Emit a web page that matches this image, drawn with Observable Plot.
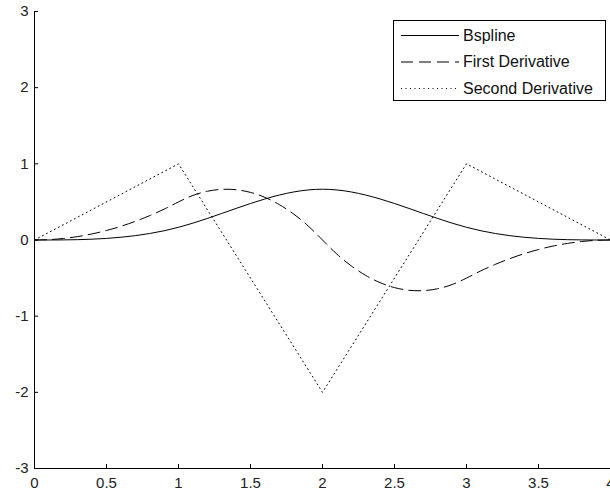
<!DOCTYPE html>
<html>
<head>
<meta charset="utf-8">
<script src="https://cdn.jsdelivr.net/npm/d3@7"></script>
<script src="https://cdn.jsdelivr.net/npm/@observablehq/plot@0.6"></script>
<style>
  html, body { margin: 0; padding: 0; background: #fff; }
  #chart { width: 610px; height: 493px; overflow: hidden; }
</style>
</head>
<body>
<div id="chart"></div>
<script>
// Sample positions (x) and series values
const xs = [0, 0.1, 0.2, 0.3, 0.4, 0.5, 0.6, 0.7, 0.8, 0.9, 1.0,
            1.1, 1.2, 1.3, 1.4, 1.5, 1.6, 1.7, 1.8, 1.9, 2.0,
            2.1, 2.2, 2.3, 2.4, 2.5, 2.6, 2.7, 2.8, 2.9, 3.0,
            3.1, 3.2, 3.3, 3.4, 3.5, 3.6, 3.7, 3.8, 3.9, 4.0];
const bspline = [0, 0.0002, 0.0013, 0.0045, 0.0107, 0.0208, 0.036, 0.0572, 0.0853, 0.1215, 0.1667,
                 0.2212, 0.2827, 0.3482, 0.4147, 0.4792, 0.5387, 0.5902, 0.6307, 0.6572, 0.6667,
                 0.6572, 0.6307, 0.5902, 0.5387, 0.4792, 0.4147, 0.3482, 0.2827, 0.2212, 0.1667,
                 0.1215, 0.0853, 0.0572, 0.036, 0.0208, 0.0107, 0.0045, 0.0013, 0.0002, 0];
const firstDeriv = [0, 0.005, 0.02, 0.045, 0.08, 0.125, 0.18, 0.245, 0.32, 0.405, 0.5,
                    0.585, 0.64, 0.665, 0.66, 0.625, 0.56, 0.465, 0.34, 0.185, 0,
                    -0.185, -0.34, -0.465, -0.56, -0.625, -0.66, -0.665, -0.64, -0.585, -0.5,
                    -0.405, -0.32, -0.245, -0.18, -0.125, -0.08, -0.045, -0.02, -0.005, 0];
const secondX = [0, 1, 2, 3, 4];
const secondDeriv = [0, 1, -2, 1, 0];

const xTicks = [0, 0.5, 1, 1.5, 2, 2.5, 3, 3.5, 4];
const yTicks = [-3, -2, -1, 0, 1, 2, 3];
const seriesNames = ["Bspline", "First Derivative", "Second Derivative"];

const bData = xs.map((x, i) => ({x, y: bspline[i]}));
const dData = xs.map((x, i) => ({x, y: firstDeriv[i]}));
const sData = secondX.map((x, i) => ({x, y: secondDeriv[i]}));

const dashes = [null, "12,6", "1,3.5"];

const chart = Plot.plot({
  width: 610,
  height: 493,
  marginLeft: 34,
  marginRight: 0,
  marginTop: 11,
  marginBottom: 25,
  style: {fontFamily: "Arial, 'Liberation Sans', sans-serif", fontSize: "15px", color: "#222", background: "#fff", overflow: "visible"},
  x: {domain: [0, 4]},
  y: {domain: [-3, 3]},
  marks: [
    Plot.line(sData, {x: "x", y: "y", stroke: "#000", strokeWidth: 1, strokeDasharray: dashes[2]}),
    Plot.line(dData, {x: "x", y: "y", stroke: "#000", strokeWidth: 1, strokeDasharray: dashes[1], curve: "natural"}),
    Plot.line(bData, {x: "x", y: "y", stroke: "#000", strokeWidth: 1, curve: "natural"}),
    Plot.ruleX(xTicks, {x: d => d, y1: -3, y2: -3, insetTop: -4, stroke: "#000"}),
    Plot.ruleY(yTicks, {y: d => d, x1: 0, x2: 0, insetRight: -4, stroke: "#000"}),
    Plot.ruleX([0], {stroke: "#000"}),
    Plot.ruleY([-3], {stroke: "#000"}),
    Plot.axisX({ticks: xTicks, tickSize: 0, tickPadding: 9, tickFormat: d => String(d), label: null}),
    Plot.axisY({ticks: yTicks, tickSize: 0, tickPadding: 6, tickFormat: d => String(d), label: null})
  ]
});
document.getElementById("chart").appendChild(chart);

// Legend (inside the plot area, top right)
const svg = d3.select(chart);
const lg = svg.append("g")
  .attr("font-family", "Arial, 'Liberation Sans', sans-serif")
  .attr("font-size", 16)
  .attr("text-anchor", "start");
lg.append("rect").attr("x", 393.5).attr("y", 20.5).attr("width", 212).attr("height", 80)
  .attr("fill", "#fff").attr("stroke", "#000").attr("stroke-width", 1);
const rowY = [35, 61.5, 88];
seriesNames.forEach((name, i) => {
  lg.append("line").attr("x1", 401).attr("x2", 459).attr("y1", rowY[i] + 0.5).attr("y2", rowY[i] + 0.5)
    .attr("stroke", "#000").attr("stroke-width", 1)
    .attr("stroke-dasharray", dashes[i]);
  lg.append("text").attr("x", 463).attr("y", rowY[i]).attr("dy", "0.35em")
    .attr("text-anchor", "start").attr("fill", "#111").text(name);
});
</script>
</body>
</html>
